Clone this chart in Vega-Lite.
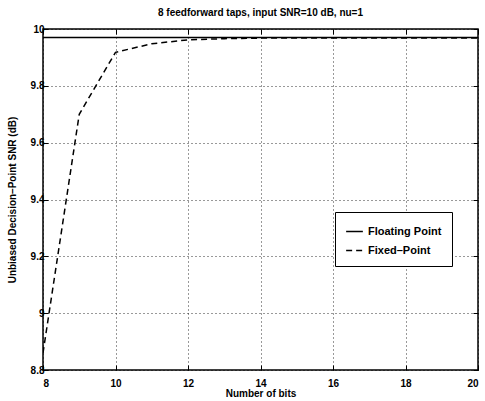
{
  "$schema": "https://vega.github.io/schema/vega-lite/v6.json",
  "autosize": {"type": "none"},
  "padding": {"left": 43, "top": 29, "right": 7, "bottom": 30},
  "width": 435,
  "height": 341,
  "background": "white",
  "title": {"text": "8 feedforward taps, input SNR=10 dB, nu=1", "font": "Liberation Sans", "fontSize": 10, "fontWeight": "bold", "color": "black", "offset": 6},
  "data": {"values": [
    {"bits": 8, "snr": 9.97, "series": "Floating Point"},
    {"bits": 20, "snr": 9.97, "series": "Floating Point"},
    {"bits": 8, "snr": 8.86, "series": "Fixed\u2013Point"},
    {"bits": 9, "snr": 9.70, "series": "Fixed\u2013Point"},
    {"bits": 10, "snr": 9.918, "series": "Fixed\u2013Point"},
    {"bits": 11, "snr": 9.948, "series": "Fixed\u2013Point"},
    {"bits": 12, "snr": 9.962, "series": "Fixed\u2013Point"},
    {"bits": 13, "snr": 9.966, "series": "Fixed\u2013Point"},
    {"bits": 14, "snr": 9.968, "series": "Fixed\u2013Point"},
    {"bits": 16, "snr": 9.968, "series": "Fixed\u2013Point"},
    {"bits": 18, "snr": 9.968, "series": "Fixed\u2013Point"},
    {"bits": 20, "snr": 9.968, "series": "Fixed\u2013Point"}
  ]},
  "layer": [
    {
      "mark": {"type": "line", "color": "black", "strokeWidth": 1.5, "clip": true},
      "encoding": {
        "x": {"field": "bits", "type": "quantitative", "scale": {"domain": [8, 20], "nice": false}, "axis": {"title": "Number of bits", "values": [8,10,12,14,16,18,20], "grid": true, "gridDash": [1,3], "gridColor": "black", "gridOpacity": 0.8, "tickSize": -5, "tickColor": "black", "domain": false, "labelFont": "Liberation Sans", "labelFontWeight": "bold", "labelFontSize": 10, "labelColor": "black", "labelPadding": 13, "titleFont": "Liberation Sans", "titleFontWeight": "bold", "titleFontSize": 10, "titleColor": "black", "titlePadding": 0}},
        "y": {"field": "snr", "type": "quantitative", "scale": {"domain": [8.8, 10], "nice": false, "zero": false}, "axis": {"title": "Unbiased Decision\u2013Point SNR (dB)", "values": [8.8,9,9.2,9.4,9.6,9.8,10], "format": "~g", "grid": true, "gridDash": [1,3], "gridColor": "black", "gridOpacity": 0.8, "tickSize": -5, "tickColor": "black", "domain": false, "labelFont": "Liberation Sans", "labelFontWeight": "bold", "labelFontSize": 10, "labelColor": "black", "labelPadding": 4, "titleFont": "Liberation Sans", "titleFontWeight": "bold", "titleFontSize": 10, "titleColor": "black", "titlePadding": 13}},
        "strokeDash": {"field": "series", "type": "nominal", "sort": ["Floating Point", "Fixed\u2013Point"], "scale": {"domain": ["Floating Point", "Fixed\u2013Point"], "range": [[1,0],[6,4]]}, "legend": {"title": "\u00a0\u00a0\u00a0\u00a0\u00a0\u00a0", "titleOrient": "right", "titleFontSize": 11, "titlePadding": 0, "orient": "none", "legendX": 292, "legendY": 183, "strokeColor": "black", "fillColor": "white", "padding": 10, "symbolType": "stroke", "symbolStrokeColor": "black", "symbolStrokeWidth": 1.5, "symbolSize": 280, "labelFont": "Liberation Sans", "labelFontWeight": "bold", "labelFontSize": 11, "labelColor": "black", "labelLimit": 300, "rowPadding": 4}}
      }
    },
    {
      "mark": {"type": "point", "opacity": 0},
      "encoding": {
        "x": {"field": "bits", "type": "quantitative", "axis": {"orient": "top", "title": null, "labels": false, "grid": false, "values": [8,10,12,14,16,18,20], "tickSize": -5, "tickColor": "black", "domain": false}},
        "y": {"field": "snr", "type": "quantitative", "axis": {"orient": "right", "title": null, "labels": false, "grid": false, "values": [8.8,9,9.2,9.4,9.6,9.8,10], "tickSize": -5, "tickColor": "black", "domain": false}}
      }
    }
  ],
  "resolve": {"scale": {"x": "shared", "y": "shared"}, "axis": {"x": "independent", "y": "independent"}},
  "config": {"view": {"stroke": "black", "strokeWidth": 1.5}}
}
